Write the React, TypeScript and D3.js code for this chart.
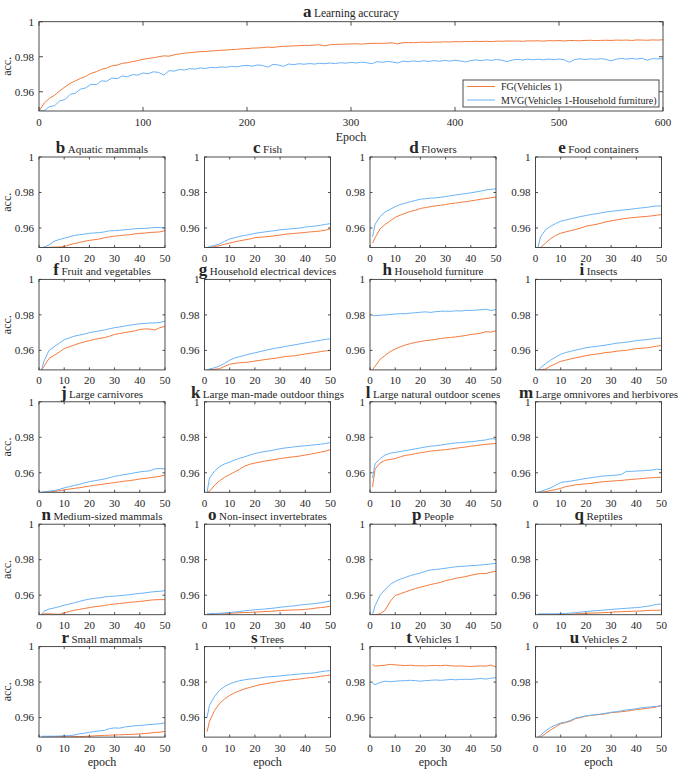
import * as d3 from "d3";

// ---- data ----
const TOP_EPOCHS = d3.range(0, 601, 5);
const topFG = [
  0.949, 0.9535, 0.9562, 0.958, 0.9605, 0.9628, 0.9648, 0.9662, 0.9676, 0.9688, 0.9705, 0.9714, 0.9728, 0.9735, 0.9748, 0.9752, 0.9762, 0.9766, 0.9772, 0.9778,
  0.9785, 0.979, 0.9794, 0.98, 0.9805, 0.9803, 0.9811, 0.9816, 0.982, 0.9823, 0.9826, 0.9829, 0.983, 0.9833, 0.9834, 0.9837, 0.9838, 0.9841, 0.9842, 0.9845,
  0.9846, 0.9849, 0.985, 0.9852, 0.9855, 0.9853, 0.9857, 0.9859, 0.986, 0.9862, 0.9863, 0.9865, 0.9864, 0.9867, 0.9868, 0.9862, 0.9869, 0.987, 0.9871, 0.9872,
  0.9873, 0.9874, 0.9872, 0.9875, 0.9876, 0.9877, 0.9876, 0.9878, 0.9879, 0.9873, 0.988, 0.9881, 0.988, 0.9882, 0.9883, 0.9882, 0.9884, 0.9883, 0.9885, 0.9884,
  0.9886, 0.9885, 0.9887, 0.9886, 0.9888, 0.9887, 0.9888, 0.9886, 0.9889, 0.9888, 0.989, 0.9889, 0.989, 0.9888, 0.9891, 0.989, 0.9891, 0.9889, 0.9892, 0.9891,
  0.9892, 0.989, 0.9893, 0.9892, 0.9891, 0.9893, 0.9894, 0.9892, 0.9893, 0.9894, 0.9893, 0.9895, 0.9894, 0.9895, 0.9893, 0.9896, 0.9895, 0.9894, 0.9896, 0.9895, 0.9897,
];
const topMVG = [
  0.949, 0.9492, 0.9515, 0.952, 0.9548, 0.9555, 0.9585, 0.9592, 0.9615, 0.9622, 0.9643, 0.964, 0.9662, 0.966, 0.9678, 0.9674, 0.969, 0.9686, 0.9698, 0.9695,
  0.9707, 0.9703, 0.9714, 0.971, 0.9695, 0.972, 0.9718, 0.9727, 0.9724, 0.9732, 0.9729, 0.9736, 0.9733, 0.9739, 0.9737, 0.9742, 0.9739, 0.9745, 0.9742, 0.9748,
  0.9751, 0.9746, 0.9753, 0.975, 0.974, 0.9756, 0.9753, 0.9745, 0.9758, 0.9755, 0.976, 0.9757, 0.9761, 0.9758, 0.9763, 0.976, 0.9764, 0.9761, 0.9766, 0.9763,
  0.9768, 0.9764, 0.9769, 0.9766, 0.976, 0.9772, 0.9768, 0.9773, 0.977, 0.9764, 0.9775, 0.9771, 0.9776, 0.9772, 0.9777, 0.9773, 0.9778, 0.9774, 0.9779, 0.9775,
  0.978, 0.9776, 0.977, 0.9778, 0.9782, 0.9777, 0.9783, 0.9779, 0.9784, 0.978, 0.9772, 0.9781, 0.9785, 0.9781, 0.9786, 0.9782, 0.9786, 0.9782, 0.9787, 0.9783,
  0.9787, 0.9783, 0.9768, 0.9784, 0.9788, 0.9784, 0.9788, 0.9785, 0.9789, 0.9785, 0.9776, 0.9786, 0.979, 0.9786, 0.979, 0.9786, 0.9791, 0.978, 0.979, 0.9787, 0.979,
];

const EPOCHS = [1, 2, 4, 6, 8, 10, 12, 14, 16, 18, 20, 22, 24, 26, 28, 30, 32, 34, 36, 38, 40, 42, 44, 46, 48, 50];

const fgB = [0.949, 0.949, 0.9491, 0.9492, 0.9493, 0.9495, 0.9505, 0.9512, 0.9518, 0.9525, 0.953, 0.9534, 0.9538, 0.9545, 0.955, 0.9554, 0.9557, 0.956, 0.9562, 0.9567, 0.957, 0.9571, 0.9575, 0.9576, 0.9578, 0.9585];
const mvgB = [0.949, 0.9492, 0.9505, 0.9525, 0.9535, 0.9542, 0.955, 0.9558, 0.9562, 0.9565, 0.957, 0.9572, 0.9574, 0.9578, 0.9584, 0.9585, 0.9587, 0.959, 0.9592, 0.9596, 0.9597, 0.9598, 0.96, 0.9603, 0.9602, 0.9601];
const fgC = [0.949, 0.949, 0.9495, 0.95, 0.9508, 0.9515, 0.9522, 0.9528, 0.9533, 0.9538, 0.9545, 0.9548, 0.955, 0.9553, 0.9556, 0.956, 0.9565, 0.9567, 0.957, 0.9572, 0.9575, 0.9578, 0.958, 0.9583, 0.9588, 0.9595];
const mvgC = [0.949, 0.9495, 0.9502, 0.951, 0.9525, 0.9538, 0.9545, 0.9553, 0.9558, 0.9563, 0.957, 0.9574, 0.9578, 0.9582, 0.9585, 0.959, 0.9592, 0.9595, 0.9597, 0.96, 0.9605, 0.9608, 0.9611, 0.9615, 0.962, 0.9625];
const fgD = [0.9515, 0.9545, 0.9595, 0.962, 0.964, 0.966, 0.9672, 0.9683, 0.9693, 0.97, 0.971, 0.9715, 0.972, 0.9725, 0.9728, 0.9732, 0.9737, 0.974, 0.9745, 0.9748, 0.9753, 0.9757, 0.9762, 0.9766, 0.977, 0.9775];
const mvgD = [0.955, 0.962, 0.9665, 0.969, 0.9705, 0.972, 0.9732, 0.974, 0.9748, 0.9755, 0.9762, 0.9765, 0.9768, 0.977, 0.9773, 0.9777, 0.9782, 0.9786, 0.979, 0.9794, 0.9798, 0.9803, 0.9808, 0.9814, 0.9818, 0.982];
const fgE = [0.949, 0.949, 0.9515, 0.954, 0.9558, 0.957, 0.9578, 0.9585, 0.9592, 0.96, 0.961, 0.9615, 0.962, 0.9627, 0.9635, 0.964, 0.9645, 0.965, 0.9654, 0.9658, 0.966, 0.9663, 0.9665, 0.9668, 0.9672, 0.9675];
const mvgE = [0.949, 0.955, 0.959, 0.961, 0.9625, 0.9638, 0.9645, 0.9652, 0.9658, 0.9665, 0.967, 0.9676, 0.968, 0.9685, 0.969, 0.9694, 0.9697, 0.97, 0.9703, 0.9706, 0.971, 0.9713, 0.9716, 0.972, 0.9725, 0.9723];
const fgF = [0.949, 0.951, 0.9555, 0.9572, 0.959, 0.961, 0.962, 0.963, 0.964, 0.9648, 0.9655, 0.9662, 0.9668, 0.9672, 0.968, 0.969, 0.9695, 0.97, 0.9705, 0.971, 0.9718, 0.9721, 0.972, 0.9715, 0.9728, 0.9735];
const mvgF = [0.949, 0.954, 0.96, 0.962, 0.964, 0.966, 0.967, 0.968, 0.9686, 0.9692, 0.97, 0.9705, 0.971, 0.9715, 0.9722, 0.9728, 0.9732, 0.9737, 0.9742, 0.9746, 0.975, 0.9752, 0.9754, 0.9755, 0.9757, 0.9765];
const fgG = [0.949, 0.949, 0.9493, 0.9497, 0.951, 0.9522, 0.9527, 0.953, 0.9532, 0.9535, 0.954, 0.9544, 0.9548, 0.9552, 0.9555, 0.956, 0.9565, 0.9568, 0.957, 0.9575, 0.958, 0.9584, 0.9588, 0.9593, 0.9597, 0.96];
const mvgG = [0.949, 0.9495, 0.9502, 0.9512, 0.9527, 0.9545, 0.9557, 0.9565, 0.9572, 0.958, 0.9586, 0.9593, 0.96, 0.9606, 0.9612, 0.9616, 0.9622, 0.9627, 0.9632, 0.9637, 0.9642, 0.9647, 0.9652, 0.9657, 0.9662, 0.9665];
const fgH = [0.949, 0.951, 0.955, 0.9572, 0.9593, 0.9608, 0.962, 0.963, 0.9638, 0.9645, 0.965, 0.9655, 0.9658, 0.9662, 0.9667, 0.967, 0.9673, 0.9676, 0.968, 0.9684, 0.969, 0.9693, 0.9697, 0.9705, 0.9703, 0.971];
const mvgH = [0.9795, 0.9796, 0.9798, 0.98, 0.9802, 0.9805, 0.9807, 0.9806, 0.981, 0.9812, 0.9815, 0.9817, 0.9814, 0.9818, 0.982, 0.9821, 0.982, 0.9823, 0.9822, 0.9825, 0.9825, 0.9827, 0.9829, 0.9832, 0.9825, 0.983];
const fgI = [0.949, 0.949, 0.9495, 0.9512, 0.9525, 0.9538, 0.9545, 0.9552, 0.9558, 0.9564, 0.957, 0.9575, 0.9579, 0.9583, 0.9588, 0.959, 0.9595, 0.9598, 0.96, 0.9605, 0.961, 0.9612, 0.9614, 0.9618, 0.9623, 0.9628];
const mvgI = [0.949, 0.9502, 0.9525, 0.9545, 0.9562, 0.9578, 0.9588, 0.9595, 0.9602, 0.9608, 0.9615, 0.9619, 0.9622, 0.9626, 0.963, 0.9635, 0.964, 0.9643, 0.9646, 0.965, 0.9655, 0.9658, 0.966, 0.9664, 0.9668, 0.967];
const fgJ = [0.949, 0.949, 0.9492, 0.9495, 0.9499, 0.9504, 0.9508, 0.9512, 0.9516, 0.952, 0.9525, 0.9529, 0.9533, 0.9537, 0.9541, 0.9545, 0.9549, 0.9553, 0.9556, 0.956, 0.9565, 0.9568, 0.9572, 0.9576, 0.958, 0.9588];
const mvgJ = [0.949, 0.9492, 0.9496, 0.95, 0.9506, 0.9515, 0.9522, 0.9528, 0.9535, 0.9543, 0.955, 0.9555, 0.956, 0.9565, 0.9572, 0.958, 0.9585, 0.959, 0.9594, 0.96, 0.9605, 0.9608, 0.9611, 0.9622, 0.9624, 0.9622];
const fgK = [0.949, 0.9495, 0.953, 0.9555, 0.9575, 0.959, 0.9605, 0.962, 0.9638, 0.9648, 0.9655, 0.966, 0.9666, 0.967, 0.9675, 0.968, 0.9684, 0.9688, 0.9691, 0.9695, 0.97, 0.9705, 0.971, 0.9716, 0.9722, 0.973];
const mvgK = [0.949, 0.957, 0.961, 0.9635, 0.965, 0.966, 0.9672, 0.9682, 0.969, 0.97, 0.9708, 0.9715, 0.972, 0.9724, 0.973, 0.9735, 0.974, 0.9743, 0.9747, 0.975, 0.9752, 0.9755, 0.9758, 0.9761, 0.9765, 0.977];
const fgL = [0.952, 0.962, 0.9655, 0.967, 0.9675, 0.968, 0.969, 0.9698, 0.9702, 0.9708, 0.9713, 0.9717, 0.9722, 0.9725, 0.9728, 0.973, 0.9734, 0.9738, 0.9742, 0.9745, 0.975, 0.9753, 0.9757, 0.976, 0.9763, 0.9765];
const mvgL = [0.957, 0.965, 0.968, 0.97, 0.971, 0.9715, 0.972, 0.9724, 0.973, 0.9735, 0.974, 0.9745, 0.975, 0.9752, 0.9756, 0.976, 0.9765, 0.9768, 0.977, 0.9773, 0.9775, 0.9778, 0.9782, 0.9785, 0.9792, 0.979];
const fgM = [0.949, 0.949, 0.9494, 0.95, 0.9505, 0.9512, 0.9522, 0.9527, 0.9532, 0.9535, 0.9538, 0.954, 0.9545, 0.9548, 0.9551, 0.9553, 0.9555, 0.9557, 0.956, 0.9562, 0.9565, 0.9567, 0.957, 0.9572, 0.9573, 0.9575];
const mvgM = [0.949, 0.9495, 0.9505, 0.9515, 0.953, 0.9545, 0.955, 0.9553, 0.9558, 0.9563, 0.9568, 0.9572, 0.9576, 0.958, 0.9583, 0.9585, 0.9587, 0.959, 0.9608, 0.9608, 0.961, 0.9611, 0.9613, 0.9615, 0.962, 0.9618];
const fgN = [0.949, 0.9495, 0.9495, 0.9493, 0.9492, 0.95, 0.9508, 0.9515, 0.952, 0.9525, 0.953, 0.9535, 0.9538, 0.9542, 0.9547, 0.955, 0.9553, 0.9556, 0.956, 0.9562, 0.9565, 0.9568, 0.9572, 0.9574, 0.9575, 0.9575];
const mvgN = [0.949, 0.951, 0.9522, 0.9528, 0.9535, 0.9543, 0.955, 0.9557, 0.9565, 0.9572, 0.9578, 0.9582, 0.9585, 0.959, 0.9593, 0.9595, 0.9597, 0.96, 0.9603, 0.9607, 0.961, 0.9613, 0.9617, 0.962, 0.9622, 0.9625];
const fgO = [0.949, 0.949, 0.9492, 0.9494, 0.9496, 0.9498, 0.95, 0.9501, 0.9502, 0.9503, 0.9505, 0.9506, 0.9508, 0.9509, 0.9511, 0.9513, 0.9515, 0.9516, 0.9517, 0.9518, 0.952, 0.9523, 0.9527, 0.953, 0.9533, 0.9538];
const mvgO = [0.9495, 0.9496, 0.9497, 0.9498, 0.95, 0.9502, 0.9505, 0.9508, 0.9512, 0.9515, 0.9518, 0.952, 0.9522, 0.9525, 0.9528, 0.9532, 0.9535, 0.9538, 0.954, 0.9545, 0.9548, 0.955, 0.9553, 0.9557, 0.9562, 0.9568];
const fgP = [0.949, 0.949, 0.9495, 0.9515, 0.9565, 0.9598, 0.9608, 0.9618, 0.9628, 0.9637, 0.9645, 0.9652, 0.966, 0.9666, 0.9672, 0.9682, 0.9688, 0.9695, 0.97, 0.9705, 0.9712, 0.9718, 0.9722, 0.9722, 0.973, 0.9735];
const mvgP = [0.949, 0.954, 0.96, 0.9632, 0.966, 0.9678, 0.969, 0.97, 0.971, 0.9718, 0.9725, 0.9735, 0.9742, 0.9745, 0.9748, 0.9752, 0.9756, 0.976, 0.9762, 0.9764, 0.9766, 0.9768, 0.977, 0.9773, 0.9776, 0.978];
const fgQ = [0.949, 0.949, 0.949, 0.949, 0.949, 0.9491, 0.9492, 0.9493, 0.9495, 0.9497, 0.9498, 0.9499, 0.95, 0.9501, 0.9502, 0.9504, 0.9506, 0.9507, 0.9508, 0.9509, 0.951, 0.9511, 0.9513, 0.9515, 0.9515, 0.9516];
const mvgQ = [0.9495, 0.9495, 0.9495, 0.9495, 0.9495, 0.9496, 0.9497, 0.9499, 0.9502, 0.9505, 0.9508, 0.951, 0.9513, 0.9515, 0.9517, 0.952, 0.9522, 0.9524, 0.9526, 0.9528, 0.953, 0.9533, 0.9537, 0.9541, 0.9548, 0.955];
const fgR = [0.949, 0.949, 0.9491, 0.9492, 0.9493, 0.9494, 0.9495, 0.9494, 0.9493, 0.9494, 0.9495, 0.9497, 0.9499, 0.95, 0.9501, 0.9502, 0.9503, 0.9504, 0.9505, 0.9506, 0.9508, 0.951, 0.9513, 0.9516, 0.9518, 0.9522];
const mvgR = [0.9495, 0.9495, 0.9495, 0.9495, 0.9496, 0.9497, 0.9498, 0.9502, 0.9508, 0.9512, 0.9517, 0.9521, 0.9525, 0.9528, 0.9538, 0.9542, 0.954, 0.9547, 0.955, 0.9554, 0.9556, 0.9558, 0.9561, 0.9563, 0.9565, 0.957];
const fgS = [0.952, 0.958, 0.964, 0.968, 0.9705, 0.9725, 0.974, 0.9752, 0.9762, 0.977, 0.9778, 0.9785, 0.979, 0.9795, 0.98, 0.9805, 0.9808, 0.9812, 0.9815, 0.9818, 0.9822, 0.9825, 0.9828, 0.9832, 0.9836, 0.984];
const mvgS = [0.96, 0.967, 0.972, 0.9755, 0.9775, 0.979, 0.98, 0.9808, 0.9813, 0.9817, 0.982, 0.9823, 0.9828, 0.983, 0.9832, 0.9835, 0.9838, 0.9841, 0.9843, 0.9846, 0.9848, 0.985, 0.9853, 0.9858, 0.9862, 0.9865];
const fgT = [0.99, 0.989, 0.9893, 0.9895, 0.99, 0.9897, 0.9895, 0.9893, 0.9895, 0.9892, 0.9892, 0.9891, 0.9893, 0.9894, 0.9892, 0.9895, 0.9892, 0.989, 0.9891, 0.9889, 0.9888, 0.989, 0.9891, 0.989, 0.9896, 0.9885];
const mvgT = [0.9795, 0.9785, 0.9798, 0.9805, 0.9802, 0.9805, 0.9807, 0.9808, 0.981, 0.9808, 0.9805, 0.9808, 0.981, 0.9812, 0.981, 0.9812, 0.9815, 0.9813, 0.9815, 0.9816, 0.9815, 0.9818, 0.982, 0.9817, 0.9822, 0.9825];
const fgU = [0.949, 0.949, 0.951, 0.953, 0.9548, 0.9565, 0.9572, 0.958, 0.9595, 0.96, 0.9608, 0.9612, 0.9615, 0.9618, 0.9622, 0.9628, 0.963, 0.9633, 0.9636, 0.964, 0.9645, 0.9648, 0.9652, 0.9655, 0.966, 0.967];
const mvgU = [0.949, 0.95, 0.9525, 0.9545, 0.9558, 0.957, 0.9575, 0.9585, 0.9598, 0.9603, 0.961, 0.9613, 0.9617, 0.962, 0.9625, 0.963, 0.9633, 0.9638, 0.9643, 0.9646, 0.965, 0.9655, 0.9658, 0.9661, 0.9663, 0.9665];

const PANEL_LETTERS = ["b", "c", "d", "e", "f", "g", "h", "i", "j", "k", "l", "m", "n", "o", "p", "q", "r", "s", "t", "u"];
const PANEL_NAMES = [
  "Aquatic mammals", "Fish", "Flowers", "Food containers",
  "Fruit and vegetables", "Household electrical devices", "Household furniture", "Insects",
  "Large carnivores", "Large man-made outdoor things", "Large natural outdoor scenes", "Large omnivores and herbivores",
  "Medium-sized mammals", "Non-insect invertebrates", "People", "Reptiles",
  "Small mammals", "Trees", "Vehicles 1", "Vehicles 2",
];
const FG_SERIES = [fgB, fgC, fgD, fgE, fgF, fgG, fgH, fgI, fgJ, fgK, fgL, fgM, fgN, fgO, fgP, fgQ, fgR, fgS, fgT, fgU];
const MVG_SERIES = [mvgB, mvgC, mvgD, mvgE, mvgF, mvgG, mvgH, mvgI, mvgJ, mvgK, mvgL, mvgM, mvgN, mvgO, mvgP, mvgQ, mvgR, mvgS, mvgT, mvgU];

const Y_TICKS = [0.96, 0.98, 1];
const X_TICKS_TOP = [0, 100, 200, 300, 400, 500, 600];
const X_TICKS_SMALL = [0, 10, 20, 30, 40, 50];
const LEGEND = ["FG(Vehicles 1)", "MVG(Vehicles 1-Household furniture)"];

// ---- styling / layout ----
const W = 685;
const H = 769;
const FONT = "'Liberation Serif', 'Times New Roman', serif";
const ORANGE = "#f47a3c";
const BLUE = "#6ab3f6";
const AXIS = "#3a3a3a";
const TEXT = "#262626";
const Y_DOMAIN: [number, number] = [0.949, 1];

const COL_LEFT = [39, 204.5, 370, 535.5];
const COL_W = 126;
const ROW_TOP0 = 157;
const ROW_STEP = 122.4;
const ROW_H = 90.5;

type AxesProps = {
  id: string;
  x0: number;
  x1: number;
  y0: number;
  y1: number;
  xDomain: [number, number];
  xTicks: number[];
  xs: number[];
  fg: number[];
  mvg: number[];
  tick: number;
  tickFont: number;
  showYLabel: boolean;
};

function Axes({ id, x0, x1, y0, y1, xDomain, xTicks, xs, fg, mvg, tick, tickFont, showYLabel }: AxesProps) {
  const x = d3.scaleLinear().domain(xDomain).range([x0, x1]);
  const y = d3.scaleLinear().domain(Y_DOMAIN).range([y1, y0]);
  const line = d3
    .line<number>()
    .x((_, i) => x(xs[i]))
    .y((d) => y(d));
  return (
    <g>
      <clipPath id={id}>
        <rect x={x0} y={y0} width={x1 - x0} height={y1 - y0} />
      </clipPath>
      <g clipPath={`url(#${id})`} fill="none" strokeWidth={1}>
        <path d={line(fg) || ""} stroke={ORANGE} />
        <path d={line(mvg) || ""} stroke={BLUE} />
      </g>
      <rect x={x0} y={y0} width={x1 - x0} height={y1 - y0} fill="none" stroke={AXIS} strokeWidth={0.9} />
      {xTicks.map((t) => (
        <g key={"x" + t}>
          <line x1={x(t)} x2={x(t)} y1={y1} y2={y1 - tick} stroke={AXIS} strokeWidth={0.9} />
          <line x1={x(t)} x2={x(t)} y1={y0} y2={y0 + tick} stroke={AXIS} strokeWidth={0.9} />
          <text x={x(t)} y={y1 + tickFont + 3.5} textAnchor="middle" fontSize={tickFont} fill={TEXT}>
            {t}
          </text>
        </g>
      ))}
      {Y_TICKS.map((t) => (
        <g key={"y" + t}>
          <line x1={x0} x2={x0 + tick} y1={y(t)} y2={y(t)} stroke={AXIS} strokeWidth={0.9} />
          <line x1={x1} x2={x1 - tick} y1={y(t)} y2={y(t)} stroke={AXIS} strokeWidth={0.9} />
          <text x={x0 - 5} y={y(t) + 3.8} textAnchor="end" fontSize={tickFont} fill={TEXT}>
            {String(t)}
          </text>
        </g>
      ))}
      {showYLabel && (
        <text
          transform={`translate(${x0 - 28},${(y0 + y1) / 2}) rotate(-90)`}
          textAnchor="middle"
          fontSize={12}
          fill={TEXT}
        >
          acc.
        </text>
      )}
    </g>
  );
}

function Title({ cx, y, letter, name, big, small }: { cx: number; y: number; letter: string; name: string; big: number; small: number }) {
  return (
    <text x={cx} y={y} textAnchor="middle" fill={TEXT}>
      <tspan fontWeight="bold" fontSize={big}>
        {letter}
      </tspan>
      <tspan fontSize={small} dx={2.5}>
        {name}
      </tspan>
    </text>
  );
}

export default function App() {
  const top = { x0: 39, x1: 663, y0: 21.7, y1: 111 };
  return (
    <svg
      width={W}
      height={H}
      viewBox={`0 0 ${W} ${H}`}
      style={{ position: "absolute", left: 0, top: 0, background: "#fff" }}
      fontFamily={FONT}
    >
      <rect width={W} height={H} fill="#fff" />
      <Title cx={(top.x0 + top.x1) / 2} y={17} letter="a" name="Learning accuracy" big={17} small={11.5} />
      <Axes
        id="clip-a"
        {...top}
        xDomain={[0, 600]}
        xTicks={X_TICKS_TOP}
        xs={TOP_EPOCHS}
        fg={topFG}
        mvg={topMVG}
        tick={4}
        tickFont={11}
        showYLabel={true}
      />
      <text x={(top.x0 + top.x1) / 2} y={141} textAnchor="middle" fontSize={12} fill={TEXT}>
        Epoch
      </text>
      {/* legend */}
      <g>
        <rect x={463} y={80} width={196} height={27} fill="#fff" stroke={AXIS} strokeWidth={0.9} />
        {LEGEND.map((label, i) => (
          <g key={label}>
            <line x1={467} x2={495} y1={86.5 + i * 13.5} y2={86.5 + i * 13.5} stroke={i === 0 ? ORANGE : BLUE} strokeWidth={1} />
            <text x={501} y={90 + i * 13.5} fontSize={10} fill={TEXT}>
              {label}
            </text>
          </g>
        ))}
      </g>
      {PANEL_LETTERS.map((letter, i) => {
        const col = i % 4;
        const row = Math.floor(i / 4);
        const x0 = COL_LEFT[col];
        const x1 = x0 + COL_W;
        const y0 = ROW_TOP0 + row * ROW_STEP;
        const y1 = y0 + ROW_H;
        return (
          <g key={letter}>
            <Title cx={(x0 + x1) / 2} y={y0 - 4} letter={letter} name={PANEL_NAMES[i]} big={17} small={11} />
            <Axes
              id={"clip-" + letter}
              x0={x0}
              x1={x1}
              y0={y0}
              y1={y1}
              xDomain={[0, 50]}
              xTicks={X_TICKS_SMALL}
              xs={EPOCHS}
              fg={FG_SERIES[i]}
              mvg={MVG_SERIES[i]}
              tick={2.5}
              tickFont={11}
              showYLabel={col === 0}
            />
            {row === 4 && (
              <text x={(x0 + x1) / 2} y={766} textAnchor="middle" fontSize={12} fill={TEXT}>
                epoch
              </text>
            )}
          </g>
        );
      })}
    </svg>
  );
}
